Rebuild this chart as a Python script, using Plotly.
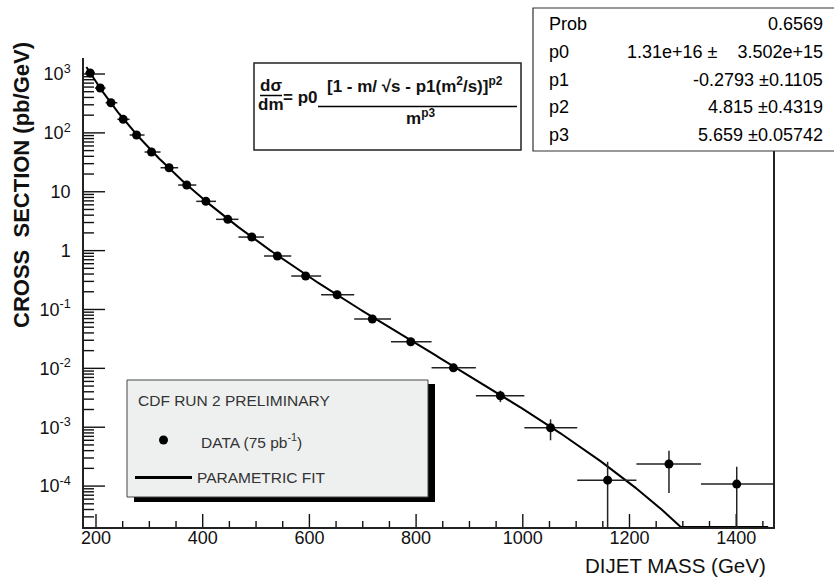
import numpy as np
import plotly.graph_objects as go

# Dijet mass spectrum: bin centres (GeV), cross sections (pb/GeV), errors
mass = [189, 208, 228, 251, 276, 304, 337, 370, 406, 447, 492, 540,
        593, 652, 718, 790, 870, 958, 1052, 1159, 1274, 1401]
xsec = [1040, 578, 325, 170, 92, 47.3, 25.6, 13.0, 6.87, 3.40, 1.70, 0.81,
        0.37, 0.178, 0.0688, 0.0283, 0.0102, 3.42e-3, 9.8e-4, 1.26e-4,
        2.37e-4, 1.08e-4]
xsec_err = [15, 8, 4, 2, 1, 0.5, 0.3, 0.15, 0.08, 0.04, 0.02, 0.01,
            0.006, 0.0065, 0.0038, 0.0023, 0.0013, 7.5e-4, 3.8e-4, 1.33e-4,
            1.61e-4, 1.05e-4]
bin_edges = [180, 198, 218, 240, 263, 291, 321, 354, 388, 425, 467, 515,
             566, 622, 684, 753, 829, 912, 1003, 1102, 1213, 1334, 1480]

# Fitted parameters of the parametric form
P0, P1, P2, P3 = 1.31e16, -0.2793, 4.815, 5.659
SQRT_S = 1960.0
NB = "\u00a0"
stat_rows = [("Prob", "0.6569"),
             ("p0", "1.31e+16 \u00b1" + NB * 4 + "3.502e+15"),
             ("p1", "-0.2793 \u00b10.1105"),
             ("p2", "4.815 \u00b10.4319"),
             ("p3", "5.659 \u00b10.05742")]

x_tickvals = [200, 400, 600, 800, 1000, 1200, 1400]
y_tickvals = [1e-4, 1e-3, 1e-2, 1e-1, 1, 10, 100, 1000]
y_ticktext = ["10<sup>-4</sup>", "10<sup>-3</sup>", "10<sup>-2</sup>",
              "10<sup>-1</sup>", "1", "10", "10<sup>2</sup>", "10<sup>3</sup>"]

X_RANGE = [177.5, 1469]
Y_RANGE = [-4.695, 3.272]

# plot-area geometry in pixels
W, H = 834, 580
L, R, T, B = 84, 773, 58, 527


def px(x):
    return (x - L) / (R - L)


def py(y):
    return (B - y) / (B - T)


xm = np.array(mass, dtype=float)
ym = np.array(xsec, dtype=float)
ye = np.array(xsec_err, dtype=float)
edges = np.array(bin_edges, dtype=float)
idx = np.searchsorted(edges, xm) - 1
x_lo = xm - edges[idx]
x_hi = edges[idx + 1] - xm
y_lo = np.minimum(ye, 0.999 * ym)

# fit curve evaluated with the fitted parameters, held at the axis floor
m_fit = np.linspace(182, 1460, 500)
u = m_fit / SQRT_S
f_fit = P0 * (1 - u + P1 * u ** 2) ** P2 / m_fit ** P3
f_fit = np.maximum(f_fit, 10 ** Y_RANGE[0])

# inside tick marks along both axes (lengths in pixels converted to data units)
x_per_px = (X_RANGE[1] - X_RANGE[0]) / (R - L)
dec_per_px = (Y_RANGE[1] - Y_RANGE[0]) / (B - T)
tick_x, tick_y = [], []
for v in range(200, 1469, 50):
    n = 13 if v in x_tickvals else 6
    tick_x += [v, v, None]
    tick_y += [10 ** Y_RANGE[0], 10 ** (Y_RANGE[0] + n * dec_per_px), None]
for e in range(-5, 4):
    for k in range(1, 10):
        v = k * 10.0 ** e
        if Y_RANGE[0] <= np.log10(v) <= Y_RANGE[1]:
            n = 21 if k == 1 else 10
            tick_x += [X_RANGE[0], X_RANGE[0] + n * x_per_px, None]
            tick_y += [v, v, None]

fig = go.Figure()
fig.add_trace(go.Scatter(x=tick_x, y=tick_y, mode="lines",
                         line=dict(color="#111", width=1.4),
                         hoverinfo="skip", connectgaps=False))
fig.add_trace(go.Scatter(x=m_fit, y=f_fit, mode="lines",
                         line=dict(color="black", width=2), hoverinfo="skip"))
fig.add_trace(go.Scatter(
    x=xm, y=ym, mode="markers",
    marker=dict(color="black", size=9, symbol="circle"),
    error_x=dict(type="data", symmetric=False, array=x_hi, arrayminus=x_lo,
                 color="#222", thickness=1.5, width=0),
    error_y=dict(type="data", symmetric=False, array=ye, arrayminus=y_lo,
                 color="#222", thickness=1.5, width=0)))

FONT = "Liberation Sans, Arial, sans-serif"

fig.update_layout(
    width=W, height=H,
    margin=dict(l=L, r=W - R, t=T, b=H - B, pad=0),
    paper_bgcolor="white", plot_bgcolor="white",
    showlegend=False,
    font=dict(family=FONT, color="#111"),
    xaxis=dict(range=X_RANGE, showgrid=False, zeroline=False,
               showline=True, linecolor="#222", linewidth=1.5, mirror=False,
               ticks="", tickmode="array", tickvals=x_tickvals,
               tickfont=dict(size=18, family=FONT, color="#111"),
               ticklabelstandoff=-6),
    yaxis=dict(type="log", range=Y_RANGE, showgrid=False, zeroline=False,
               showline=True, linecolor="#222", linewidth=1.5, mirror=True,
               ticks="", tickmode="array", tickvals=y_tickvals,
               ticktext=y_ticktext,
               tickfont=dict(size=18, family=FONT, color="#111"),
               ticklabelstandoff=8),
)

shapes = []
annotations = []


def text(x, y, s, size, xanchor="center", color="#111", angle=0):
    annotations.append(dict(
        x=px(x), y=py(y), xref="paper", yref="paper", text=s,
        showarrow=False, xanchor=xanchor, yanchor="middle", textangle=angle,
        font=dict(size=size, family=FONT, color=color)))


def rect(x0, y0, x1, y1, fill, line="#222", lw=1.2):
    shapes.append(dict(type="rect", xref="paper", yref="paper",
                       x0=px(x0), x1=px(x1), y0=py(y1), y1=py(y0),
                       fillcolor=fill, line=dict(color=line, width=lw),
                       layer="above"))


def hline(x0, x1, y, lw=1.5):
    shapes.append(dict(type="line", xref="paper", yref="paper",
                       x0=px(x0), x1=px(x1), y0=py(y), y1=py(y),
                       line=dict(color="black", width=lw), layer="above"))


# axis titles
text(21, 185, "<b>CROSS  SECTION (pb/GeV)</b>", 22, angle=-90)
text(768, 565, "DIJET MASS (GeV)", 20.5, xanchor="right")

# formula box
rect(254, 63, 521, 150, "white", "#222", 1.5)
text(271, 86, "<b>d\u03c3</b>", 17)
hline(260, 282, 95.5, 1.5)
text(271, 104, "<b>dm</b>", 17)
text(300, 97, "<b>= p0</b>", 17)
text(415, 85, "<b>[1 - m/ \u221as - p1(m<sup>2</sup>/s)]<sup>p2</sup></b>", 17)
hline(318, 517, 106.5, 1.5)
text(420, 117, "<b>m<sup>p3</sup></b>", 17)

# fit statistics box
rect(533, 8, 845, 151, "white", "#333", 1.2)
for i, (k, v) in enumerate(stat_rows):
    yy = 24 + i * 27.8
    text(547, yy, k, 18, xanchor="left", color="#000")
    text(825, yy, v, 18, xanchor="right", color="#000")

# legend box with drop shadow
rect(134, 384, 435, 502, "black", "black", 0)
rect(127, 380, 428, 497, "#eef0f0", "#444", 1)
text(136, 400, "CDF RUN 2 PRELIMINARY", 15.5, xanchor="left", color="#333")
shapes.append(dict(type="circle", xref="paper", yref="paper",
                   x0=px(159), x1=px(168), y0=py(444.5), y1=py(435.5),
                   fillcolor="black", line=dict(color="black", width=0),
                   layer="above"))
text(199, 441, "DATA (75 pb<sup>-1</sup>)", 15.5, xanchor="left", color="#333")
hline(135, 192, 477.5, 3)
text(195, 477, "PARAMETRIC FIT", 15.5, xanchor="left", color="#333")

fig.update_layout(shapes=shapes, annotations=annotations)
fig.write_html("out.html")
